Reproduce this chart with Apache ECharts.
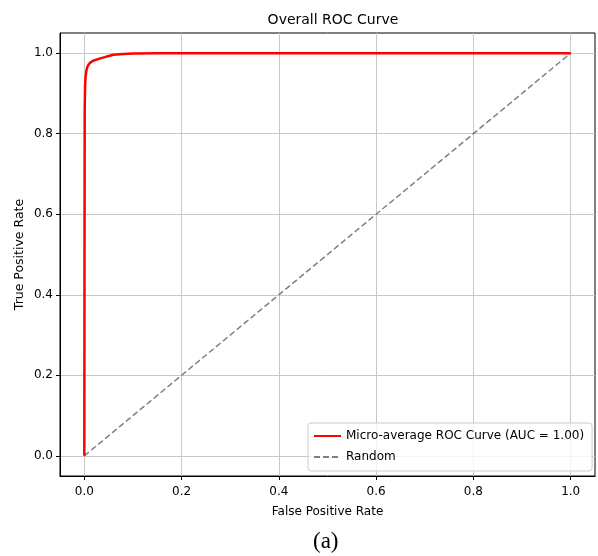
<!DOCTYPE html>
<html>
<head>
<meta charset="utf-8">
<script src="https://cdn.jsdelivr.net/npm/echarts@6/dist/echarts.min.js"></script>
<style>
  html, body { margin: 0; padding: 0; background: #fff; }
  #chart { width: 598px; height: 556px; }
</style>
</head>
<body>
<div id="chart"></div>
<script>
// ROC curve points
const fpr = [0, 0.0004, 0.0008, 0.0015, 0.0025, 0.004, 0.006, 0.009, 0.013, 0.018, 0.025, 0.033, 0.042, 0.05, 0.06, 0.08, 0.1, 0.15, 0.44, 0.44, 1.0];
const tpr = [0, 0.5, 0.86, 0.915, 0.94, 0.955, 0.965, 0.972, 0.977, 0.981, 0.984, 0.987, 0.99, 0.993, 0.996, 0.998, 0.999, 0.9995, 0.9995, 1.0, 1.0];
const randomX = [0, 1];
const randomY = [0, 1];
const tickValues = [0, 0.2, 0.4, 0.6, 0.8, 1.0];

const rocData = fpr.map((x, i) => [x, tpr[i]]);
const randomData = randomX.map((x, i) => [x, randomY[i]]);

const chart = echarts.init(document.getElementById('chart'));

const font = 'DejaVu Sans';

function axis(name, nameGap, nameSize, labelMargin) {
  return {
    type: 'value',
    min: -0.05,
    max: 1.05,
    name: name,
    nameLocation: 'middle',
    nameGap: nameGap,
    nameMoveOverlap: false,
    nameTextStyle: { fontFamily: font, fontSize: nameSize, color: '#000' },
    axisLine: { show: true, onZero: false, lineStyle: { color: '#000', width: 1 } },
    axisTick: { show: true, customValues: tickValues, length: 4, lineStyle: { color: '#000' } },
    axisLabel: {
      customValues: tickValues,
      fontFamily: font, fontSize: 12, color: '#000', margin: labelMargin,
      formatter: v => v.toFixed(1)
    },
    splitLine: { show: true, lineStyle: { color: '#c8c8c8', width: 1 } }
  };
}

const option = {
  animation: false,
  backgroundColor: '#fff',
  title: {
    text: 'Overall ROC Curve',
    left: 328, top: 8, textAlign: 'center',
    textStyle: { fontFamily: font, fontSize: 14, fontWeight: 'normal', color: '#000' }
  },
  grid: {
    left: 60, right: 3, top: 33, bottom: 80,
    show: true, borderColor: '#000', borderWidth: 1
  },
  xAxis: axis('False Positive Rate', 30, 12, 10),
  yAxis: axis('True Positive Rate', 34, 12.5, 7),
  legend: {
    orient: 'vertical',
    left: 308, top: 423,
    backgroundColor: 'rgba(255,255,255,0.8)',
    borderColor: '#cccccc', borderWidth: 1, borderRadius: 3,
    padding: [7, 8, 8, 5],
    itemGap: 9,
    itemWidth: 27, itemHeight: 10,
    itemStyle: { opacity: 0 },
    textStyle: { fontFamily: font, fontSize: 12, color: '#000' },
    data: ['Micro-average ROC Curve (AUC = 1.00)', 'Random']
  },
  series: [
    {
      name: 'Micro-average ROC Curve (AUC = 1.00)',
      type: 'line',
      data: rocData,
      showSymbol: false,
      symbol: 'none',
      lineStyle: { color: '#ff0000', width: 2.5 },
      itemStyle: { color: '#ff0000' },
      z: 3
    },
    {
      name: 'Random',
      type: 'line',
      data: randomData,
      showSymbol: false,
      symbol: 'none',
      lineStyle: { color: '#808080', width: 1.5, type: [6, 3] },
      itemStyle: { color: '#808080' },
      z: 2
    }
  ],
  graphic: [{
    type: 'text',
    left: 313, top: 530,
    style: { text: '(a)', font: '23px "Liberation Serif"', fill: '#000' }
  }]
};

chart.setOption(option);
</script>
</body>
</html>
